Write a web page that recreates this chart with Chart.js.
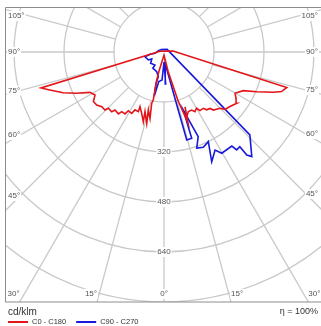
<!DOCTYPE html>
<html>
<head>
<meta charset="utf-8">
<script src="https://cdn.jsdelivr.net/npm/chart.js@4.4.0/dist/chart.umd.min.js"></script>
<style>
  html, body { margin: 0; padding: 0; background: #fff; }
  #wrap { width: 321px; height: 326px; }
</style>
</head>
<body>
<div id="wrap"><canvas id="polar" width="321" height="326"></canvas></div>
<script>
// gamma angle in degrees (0 = nadir, negative = left half plane), intensity in cd/klm
var redAngles = [-100, -73.7, -71.6, -68, -64.7, -61.4, -58.1, -54.9, -51.8, -48.7, -45.5, -44.7, -41.2, -40.2, -36.4, -35.3, -32.2, -31.3, -27.8, -26.6, -23.3, -23.7, -20, -16.5, -17.7, -13.6, -15.1, -11.9, -13.5, -12.6, -13.3, -14.6, -14.6, 0, 12, 16, 18.7, 21, 19.3, 22.2, 25.5, 27.4, 30.1, 31.5, 34.9, 36.4, 39.2, 40.4, 44.8, 46.8, 50.4, 54.8, 57.3, 59.8, 64, 66.8, 69.8, 71.4, 73.9, 96, -100];
var redValues = [13, 410, 385, 348, 309, 270, 260, 276, 274, 265, 265, 253, 254, 243, 246, 234, 234, 220, 222, 207, 208, 191, 209, 233, 200, 235, 192, 217, 169, 157, 125, 92, 60, 10, 64, 160, 240, 188, 220, 206, 206, 215, 208, 220, 220, 230, 233, 244, 254, 268, 274, 285, 274, 263, 282, 323, 373, 397, 409, 29, 13];

var blueAngles = [-125, -100, -81.8, -80.7, -76.1, -63, -60.4, -49.6, -34.7, -34.7, -20.3, -13, -14.3, -13.3, -12.5, -10, -4, 0, 3, 6, 13.8, 14.5, 17.8, 18.4, 22, 18.8, 22.4, 26.3, 23.5, 27.5, 29.7, 35.8, 36.6, 38.7, 38.8, 40, 46, 130, -125];
var blueValues = [13, 19, 29, 45, 63, 56, 45, 56, 51, 63, 67, 81, 103, 125, 144, 96, 90, 32, 102, 38, 191, 291, 290, 196, 292, 325, 330, 320, 383, 354, 373, 371, 390, 388, 423, 437, 382, 13, 13];

var seriesNames = ["C0 - C180", "C90 - C270"];
var ringValues = [160, 320, 480, 640, 800];
var ringLabelValues = [320, 480, 640];
var spokeAngles = [-165, -150, -135, -120, -105, -90, -75, -60, -45, -30, -15, 0, 15, 30, 45, 60, 75, 90, 105, 120, 135, 150, 165, 180];
var angleLabels = [0, 15, 30, 45, 60, 75, 90, 105];
var unitLabel = "cd/klm";
var efficiency = "η = 100%";

function toPoints(angles, values) {
  return angles.map(function (a, i) {
    var rad = a * Math.PI / 180;
    return { x: values[i] * Math.sin(rad), y: -values[i] * Math.cos(rad) };
  });
}

function labelBox(ctx, text, x, y, align) {
  var w = ctx.measureText(text).width;
  var left = align === "left" ? x : align === "right" ? x - w : x - w / 2;
  ctx.fillStyle = "#fff";
  ctx.fillRect(left - 1, y - 5, w + 2, 10);
  ctx.fillStyle = "#555";
  ctx.textAlign = align;
  ctx.fillText(text, x, y);
}

var polarGrid = {
  id: "polarGrid",
  beforeDatasetsDraw: function (chart) {
    var ctx = chart.ctx, area = chart.chartArea;
    var xs = chart.scales.x, ys = chart.scales.y;
    var cx = xs.getPixelForValue(0), cy = ys.getPixelForValue(0);
    var unit = xs.getPixelForValue(1) - cx;

    ctx.save();
    ctx.beginPath();
    ctx.rect(area.left, area.top, area.right - area.left, area.bottom - area.top);
    ctx.clip();
    ctx.strokeStyle = "#c9c9c9";
    ctx.lineWidth = 1.3;
    ringValues.forEach(function (v) {
      ctx.beginPath();
      ctx.arc(cx, cy, v * unit, 0, 2 * Math.PI);
      ctx.stroke();
    });
    var r0 = ringValues[0] * unit;
    spokeAngles.forEach(function (a) {
      var rad = a * Math.PI / 180, dx = Math.sin(rad), dy = Math.cos(rad);
      ctx.beginPath();
      ctx.moveTo(cx + r0 * dx, cy + r0 * dy);
      ctx.lineTo(cx + 2000 * dx, cy + 2000 * dy);
      ctx.stroke();
    });

    ctx.font = "8px 'Liberation Sans', Arial, sans-serif";
    ctx.textBaseline = "middle";
    ringLabelValues.forEach(function (v) {
      labelBox(ctx, String(v), cx, cy + v * unit, "center");
    });

    angleLabels.forEach(function (a) {
      [-1, 1].forEach(function (s) {
        if (a === 0 && s > 0) return;
        var rad = a * Math.PI / 180, dx = s * Math.sin(rad), dy = Math.cos(rad);
        var tx = dx < 0 ? (area.left - cx) / dx : dx > 0 ? (area.right - cx) / dx : Infinity;
        var ty = dy > 0 ? (area.bottom - cy) / dy : dy < 0 ? (area.top - cy) / dy : Infinity;
        var text = a + "°";
        if (ty < tx) {
          var hx = cx + ty * dx;
          labelBox(ctx, text, hx, area.bottom - 8, s < 0 && a ? "right" : a ? "left" : "center");
        } else {
          var sx = s < 0 ? area.left + 15 : area.right - 15;
          var y = cy + dy * (sx - cx) / dx;
          y = Math.max(y, area.top + 9);
          labelBox(ctx, text, s < 0 ? area.left + 3 : area.right - 3, y, s < 0 ? "left" : "right");
        }
      });
    });
    ctx.restore();
  },
  afterDraw: function (chart) {
    var ctx = chart.ctx, area = chart.chartArea;
    ctx.save();
    ctx.strokeStyle = "#8c8c8c";
    ctx.lineWidth = 1;
    ctx.beginPath();
    ctx.moveTo(area.right, area.top + 0.5);
    ctx.lineTo(area.left + 0.5, area.top + 0.5);
    ctx.lineTo(area.left + 0.5, area.bottom);
    ctx.lineTo(area.right, area.bottom);
    ctx.stroke();

    ctx.textBaseline = "middle";
    ctx.fillStyle = "#333";
    ctx.font = "10px 'Liberation Sans', Arial, sans-serif";
    ctx.textAlign = "left";
    ctx.fillText(unitLabel, 8, 312);
    ctx.font = "9px 'Liberation Sans', Arial, sans-serif";
    ctx.textAlign = "right";
    ctx.fillText(efficiency, 318, 312);

    ctx.font = "7.5px 'Liberation Sans', Arial, sans-serif";
    ctx.textAlign = "left";
    var x = 8;
    chart.data.datasets.forEach(function (ds) {
      ctx.strokeStyle = ds.borderColor;
      ctx.lineWidth = 2;
      ctx.beginPath();
      ctx.moveTo(x, 322);
      ctx.lineTo(x + 20, 322);
      ctx.stroke();
      ctx.fillStyle = "#333";
      ctx.fillText(ds.label, x + 24, 322);
      x += 24 + ctx.measureText(ds.label).width + 10;
    });
    ctx.restore();
  }
};

var ctx = document.getElementById("polar").getContext("2d");
var chart = new Chart(ctx, {
  type: "scatter",
  data: {
    datasets: [
      {
        label: seriesNames[0],
        data: toPoints(redAngles, redValues),
        borderColor: "rgb(228, 20, 24)",
        borderWidth: 1.6,
        showLine: true,
        pointRadius: 0
      },
      {
        label: seriesNames[1],
        data: toPoints(blueAngles, blueValues),
        borderColor: "rgb(24, 24, 220)",
        borderWidth: 1.6,
        showLine: true,
        pointRadius: 0
      }
    ]
  },
  options: {
    responsive: false,
    animation: false,
    devicePixelRatio: 1,
    layout: { padding: { left: 5, top: 7, right: 0, bottom: 24 } },
    scales: {
      x: { type: "linear", display: false, min: -508.8, max: 502.4 },
      y: { type: "linear", display: false, min: -800, max: 144 }
    },
    plugins: { legend: { display: false }, tooltip: { enabled: false } },
    elements: { line: { tension: 0 } }
  },
  plugins: [polarGrid]
});
</script>
</body>
</html>
